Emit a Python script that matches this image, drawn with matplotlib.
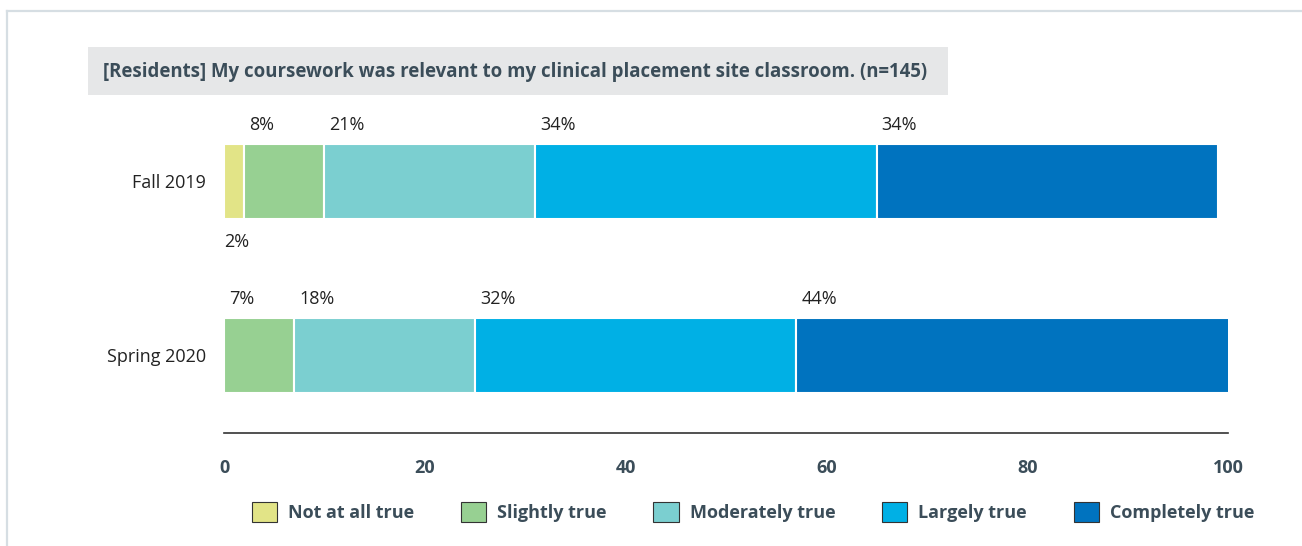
import matplotlib
matplotlib.use("Agg")
import matplotlib.pyplot as plt
from matplotlib.patches import Rectangle, Patch

plt.rcParams['font.family'] = ['Open Sans', 'DejaVu Sans']

# data
categories = ['Fall 2019', 'Spring 2020']
responses = ['Not at all true', 'Slightly true', 'Moderately true', 'Largely true', 'Completely true']
values = {
    'Not at all true': [2, 0],
    'Slightly true': [8, 7],
    'Moderately true': [21, 18],
    'Largely true': [34, 32],
    'Completely true': [34, 44],
}
colors = ['#e2e487', '#97d092', '#7bcfd0', '#00b0e5', '#0073bf']
title = '[Residents] My coursework was relevant to my clinical placement site classroom. (n=145)'

dark = '#3b4d59'
W, H = 1302, 546
fig = plt.figure(figsize=(W / 100, H / 100), dpi=100)

# outer frame (light border)
fig.add_artist(plt.Line2D([7 / W, 7 / W], [0, 1 - 11 / H], color='#d6dee3', lw=1.6))
fig.add_artist(plt.Line2D([7 / W, 1], [1 - 11 / H, 1 - 11 / H], color='#d6dee3', lw=1.6))

# title box
fig.add_artist(Rectangle((88 / W, 1 - 95 / H), (948 - 88) / W, 48 / H,
                         facecolor='#e6e7e8', edgecolor='none', transform=fig.transFigure))
fig.text(103 / W, 1 - 72 / H, title, fontsize=13.4, fontweight='bold', color=dark,
         ha='left', va='center')

ax = fig.add_axes([224 / W, 1 - 433 / H, (1228 - 224) / W, (433 - 120) / H])

ypos = [1, 0]
bar_h = 0.431
left = [0, 0]
for resp, col in zip(responses, colors):
    vals = values[resp]
    ax.barh(ypos, vals, left=left, height=bar_h, color=col, edgecolor='white', linewidth=1.5)
    for i, v in enumerate(vals):
        if v > 0:
            if v < 3:
                ax.annotate(f'{v}%', (left[i], ypos[i] - bar_h / 2), xytext=(0, -17),
                            textcoords='offset points', ha='left', va='center',
                            fontsize=13, color='#222222')
            else:
                ax.annotate(f'{v}%', (left[i] + 0.5, ypos[i] + bar_h / 2), xytext=(0, 13.5),
                            textcoords='offset points', ha='left', va='center',
                            fontsize=13, color='#222222')
    left = [l + v for l, v in zip(left, vals)]

ax.set_xlim(0, 100)
ax.set_ylim(-0.448, 1.351)
ax.set_yticks(ypos)
ax.set_yticklabels(categories, fontsize=13, color='#222222')
ax.set_xticks([0, 20, 40, 60, 80, 100])
ax.tick_params(axis='x', length=0, pad=19, labelsize=13, labelcolor=dark)
ax.tick_params(axis='y', length=0, pad=13)
for lbl in ax.get_xticklabels():
    lbl.set_fontweight('bold')
for s in ['top', 'right', 'left']:
    ax.spines[s].set_visible(False)
ax.spines['bottom'].set_color('#333333')
ax.spines['bottom'].set_linewidth(1.2)

handles = [Patch(facecolor=c, edgecolor='#333333', linewidth=0.8, label=r) for r, c in zip(responses, colors)]
leg = fig.legend(handles=handles, loc='center', bbox_to_anchor=(753 / W, 1 - 512 / H), ncol=5,
                 frameon=False, handlelength=1.4, handleheight=1.4, handletextpad=0.6,
                 columnspacing=2.6, prop={'size': 13, 'weight': 'bold'})
for t in leg.get_texts():
    t.set_color(dark)

fig.savefig('out.png', dpi=100, facecolor='white')
